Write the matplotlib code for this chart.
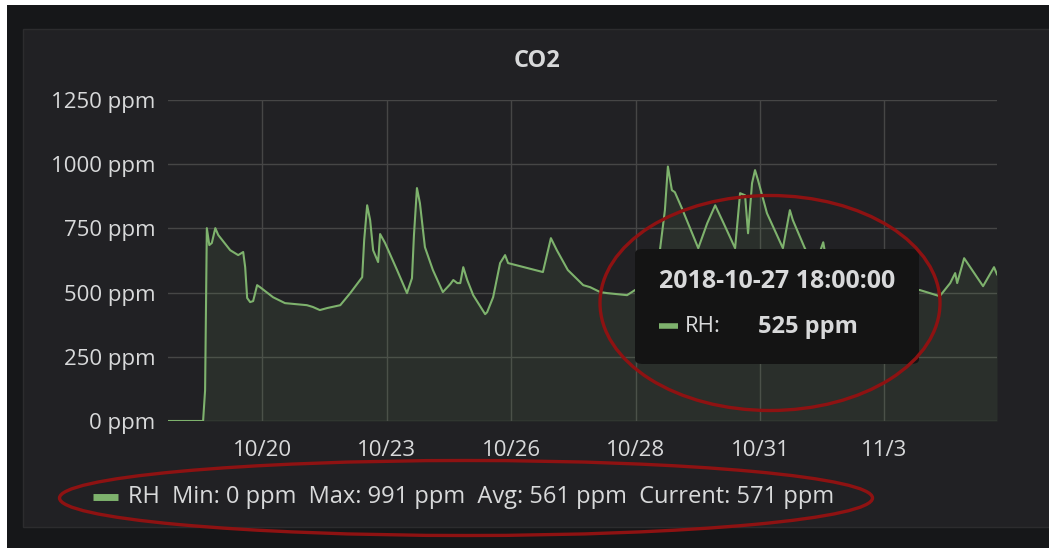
import matplotlib.pyplot as plt
import matplotlib.patches as patches
from matplotlib.lines import Line2D
import numpy as np

# time in days (10/20 tick at day 2), CO2 in ppm
days = [0.11, 0.815, 0.855, 0.89, 0.94, 0.99, 1.06, 1.12, 1.36, 1.52, 1.62, 1.66, 1.70, 1.76, 1.82,
        1.90, 1.96, 2.22, 2.46, 2.90, 3.02, 3.16, 3.31, 3.57, 3.77, 4.01, 4.05, 4.11, 4.17, 4.23,
        4.33, 4.37, 4.47, 4.71, 4.91, 5.01, 5.05, 5.11, 5.17, 5.27, 5.43, 5.63, 5.78, 5.84, 5.92,
        5.98, 6.04, 6.12, 6.24, 6.48, 6.52, 6.64, 6.78, 6.88, 6.94, 7.64, 7.80, 7.92, 8.14, 8.45,
        8.59, 8.79, 8.93, 9.33, 9.49, 9.75, 9.99, 10.09, 10.15, 10.23, 10.29, 10.43, 10.76, 10.94,
        11.10, 11.26, 11.50, 11.60, 11.70, 11.76, 11.84, 11.90, 11.96, 12.14, 12.46, 12.60, 12.66,
        12.90, 13.10, 13.27, 13.35, 13.65, 14.05, 14.45, 14.75, 15.21, 15.61, 15.82, 15.92, 15.96,
        16.10, 16.48, 16.70, 16.76]
co2 = [0, 0, 120, 751, 685, 693, 751, 724, 665, 646, 658, 599, 479, 463, 467,
       529, 521, 482, 459, 451, 444, 432, 440, 451, 498, 560, 704, 840, 782, 665,
       619, 728, 693, 588, 498, 556, 724, 907, 848, 677, 588, 502, 533, 549, 537,
       537, 599, 549, 490, 416, 424, 482, 615, 646, 615, 580, 712, 665, 588, 529,
       521, 502, 498, 490, 510, 525, 665, 821, 991, 899, 891, 829, 673, 770,
       840, 774, 673, 887, 879, 731, 926, 977, 938, 809, 673, 821, 782,
       673, 600, 696, 607, 549, 529, 517, 514, 510, 486, 537, 576, 537,
       634, 525, 599, 571]

tick_days = [2, 4.5, 7, 9.5, 12, 14.5]
tick_labels = ["10/20", "10/23", "10/26", "10/28", "10/31", "11/3"]
y_ticks = [0, 250, 500, 750, 1000, 1250]

series_name = "RH"
stat_min, stat_max, stat_avg, stat_cur = 0, 991, 561, 571
hover_time = "2018-10-27 18:00:00"
hover_value = 525

W, H = 1049, 548
line_color = "#7EB26D"
text_color = "#d8d9da"
panel_bg = "#212124"
plt.rcParams['font.family'] = ['Open Sans', 'DejaVu Sans']

fig = plt.figure(figsize=(W / 100, H / 100), dpi=100, facecolor="white")

def fx(px):
    return px / W

def fy(py):
    return 1 - py / H

# page background and panel
fig.add_artist(patches.Rectangle((fx(7), 0), 1, fy(5), transform=fig.transFigure,
                                 facecolor="#161719", edgecolor="none", zorder=0))
fig.add_artist(patches.Rectangle((fx(23), fy(527)), 1, fy(29) - fy(527), transform=fig.transFigure,
                                 facecolor=panel_bg, edgecolor="#2c2c2e", linewidth=1, zorder=0))

ax = fig.add_axes([fx(168), fy(421), fx(997) - fx(168), fy(100) - fy(421)])
ax.set_facecolor("none")
ax.plot(days, co2, color=line_color, linewidth=1.5, zorder=3)
ax.fill_between(days, co2, 0, color=line_color, alpha=0.1, linewidth=0, zorder=2)
ax.set_xlim(0.11, 16.76)
ax.set_ylim(0, 1250)
ax.set_xticks(tick_days)
ax.set_xticklabels(tick_labels)
ax.set_yticks(y_ticks)
ax.set_yticklabels([f"{v} ppm" for v in y_ticks])
ax.grid(True, color="#464646", linewidth=1, zorder=1)
ax.tick_params(length=0, colors=text_color, labelsize=16)
ax.tick_params(axis='y', pad=9)
ax.tick_params(axis='x', pad=14)
for s in ax.spines.values():
    s.set_visible(False)

fig.text(fx(537), fy(61), "CO2", color=text_color, fontsize=17, fontweight="bold",
         ha="center", va="center")

# legend
fig.add_artist(Line2D([fx(93), fx(118)], [fy(497), fy(497)], transform=fig.transFigure,
                      color=line_color, linewidth=5, solid_capstyle="butt"))
fig.text(fx(128), fy(497),
         f"{series_name}  Min: {stat_min} ppm  Max: {stat_max} ppm  Avg: {stat_avg} ppm  Current: {stat_cur} ppm",
         color=text_color, fontsize=17, ha="left", va="center")

# tooltip
fig.add_artist(patches.FancyBboxPatch((fx(635), fy(364)), fx(919) - fx(635), fy(249) - fy(364),
                                      boxstyle="round,pad=0,rounding_size=0.008",
                                      transform=fig.transFigure, facecolor="#141414",
                                      edgecolor="none", zorder=5))
fig.text(fx(777), fy(282), hover_time, color=text_color, fontsize=18, fontweight="bold",
         ha="center", va="center", zorder=6)
fig.add_artist(Line2D([fx(659), fx(678)], [fy(326), fy(326)], transform=fig.transFigure,
                      color=line_color, linewidth=4, solid_capstyle="butt", zorder=6))
fig.text(fx(685), fy(327), f"{series_name}:", color=text_color, fontsize=16,
         ha="left", va="center", zorder=6)
fig.text(fx(758), fy(327), f"{hover_value} ppm", color=text_color, fontsize=17, fontweight="bold",
         ha="left", va="center", zorder=6)

# red annotation ellipses
fig.add_artist(patches.Ellipse((fx(770), fy(303)), 340 / W, 215 / H, transform=fig.transFigure,
                               fill=False, edgecolor="#8e1212", linewidth=2.4, zorder=7))
fig.add_artist(patches.Ellipse((fx(466), fy(498)), 813 / W, 75 / H, transform=fig.transFigure,
                               fill=False, edgecolor="#8e1212", linewidth=2.4, zorder=7))

fig.savefig("out.png", dpi=100, facecolor=fig.get_facecolor())
